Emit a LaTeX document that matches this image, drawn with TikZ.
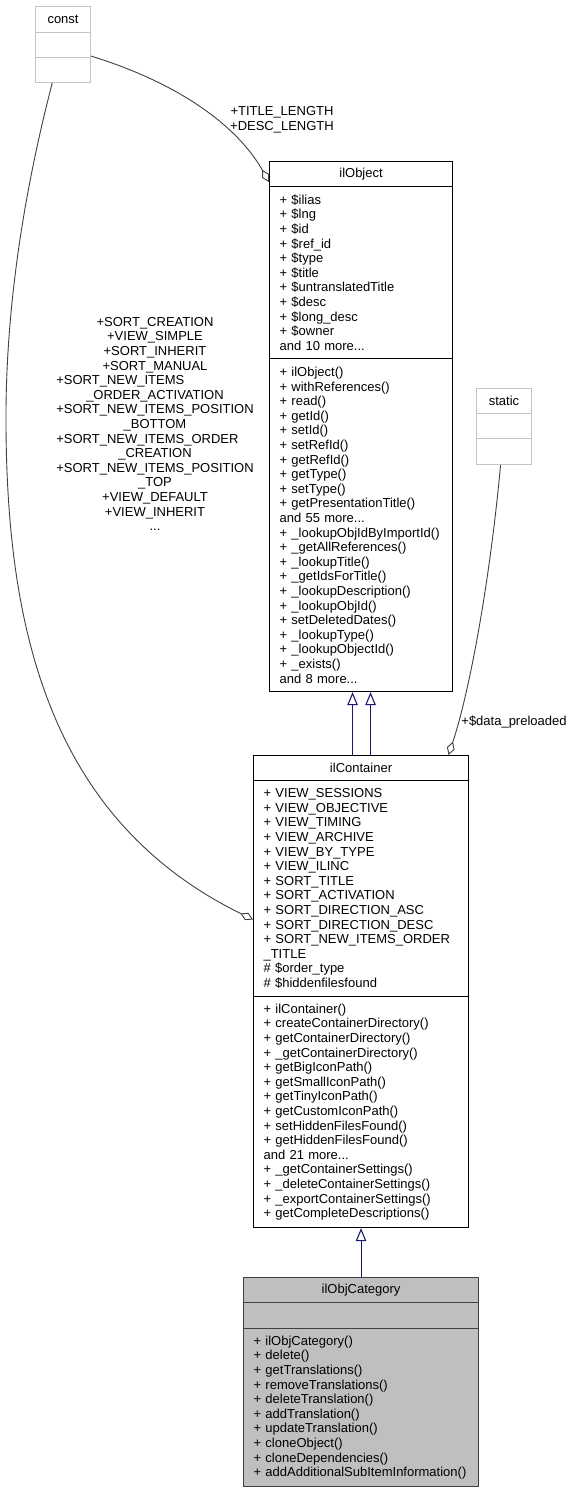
\documentclass[tikz,border=0pt]{standalone}
\usepackage{fontspec}
\setmainfont{Liberation Sans}
\usetikzlibrary{arrows.meta,calc}
\definecolor{navyline}{HTML}{191970}
\definecolor{edgegray}{HTML}{404040}
\definecolor{lightbox}{HTML}{C4C4C4}
\definecolor{catfill}{HTML}{BFBFBF}
\begin{document}
\hyphenpenalty=10000
\exhyphenpenalty=10000
\begin{tikzpicture}[x=1pt,y=-1pt,
  txt/.style={font=\fontsize{13}{14.6}\selectfont},
  ttl/.style={txt, draw=black, line width=1.1pt, inner sep=0pt, anchor=north west, align=center},
  cell/.style={txt, draw=black, line width=1.1pt, inner xsep=10pt, inner ysep=0pt, anchor=north west, align=left},
  cat/.style={fill=catfill, draw=edgegray},
  ext/.style={txt, draw=lightbox, line width=1.1pt, inner sep=0pt, anchor=north west, minimum width=55, align=center},
  inh/.style={draw=navyline, line width=1.1pt, -{Triangle[open, length=13pt, width=10.5pt]}},
  agg/.style={draw=edgegray, line width=0.9pt, -{Diamond[open, length=14pt, width=8pt, fill=white]}},
  lbl/.style={txt, align=center, inner sep=0pt}
]
\useasboundingbox (0,0) rectangle (572,1492);

% const
\node[ext, minimum height=26] (cst1) at (35,5.7) {const};
\node[ext, minimum height=25] (cst2) at (35,31.7) {};
\node[ext, minimum height=25] (cst3) at (35,56.7) {};

% static
\node[ext, minimum height=25] (stc1) at (476,388) {static};
\node[ext, minimum height=25] (stc2) at (476,413) {};
\node[ext, minimum height=26] (stc3) at (476,438) {};

% ilObject
\node[ttl, minimum width=183, minimum height=25] (objT) at (269,161) {ilObject};
\node[cell, text width=163, minimum height=172] (objA) at (269,186) {%
+ \$ilias\\+ \$lng\\+ \$id\\+ \$ref\_id\\+ \$type\\+ \$title\\+ \$untranslatedTitle\\+ \$desc\\+ \$long\_desc\\+ \$owner\\and 10 more...};
\node[cell, text width=163, minimum height=333] (objM) at (269,358) {%
+ ilObject()\\+ withReferences()\\+ read()\\+ getId()\\+ setId()\\+ setRefId()\\+ getRefId()\\+ getType()\\+ setType()\\+ getPresentationTitle()\\and 55 more...\\+ \_lookupObjIdByImportId()\\+ \_getAllReferences()\\+ \_lookupTitle()\\+ \_getIdsForTitle()\\+ \_lookupDescription()\\+ \_lookupObjId()\\+ setDeletedDates()\\+ \_lookupType()\\+ \_lookupObjectId()\\+ \_exists()\\and 8 more...};

% ilContainer
\node[ttl, minimum width=215, minimum height=25] (ctrT) at (253,755) {ilContainer};
\node[cell, text width=195, minimum height=216] (ctrA) at (253,780) {%
+ VIEW\_SESSIONS\\+ VIEW\_OBJECTIVE\\+ VIEW\_TIMING\\+ VIEW\_ARCHIVE\\+ VIEW\_BY\_TYPE\\+ VIEW\_ILINC\\+ SORT\_TITLE\\+ SORT\_ACTIVATION\\+ SORT\_DIRECTION\_ASC\\+ SORT\_DIRECTION\_DESC\\+ SORT\_NEW\_ITEMS\_ORDER\\\_TITLE\\\# \$order\_type\\\# \$hiddenfilesfound};
\node[cell, text width=195, minimum height=231] (ctrM) at (253,996) {%
+ ilContainer()\\+ createContainerDirectory()\\+ getContainerDirectory()\\+ \_getContainerDirectory()\\+ getBigIconPath()\\+ getSmallIconPath()\\+ getTinyIconPath()\\+ getCustomIconPath()\\+ setHiddenFilesFound()\\+ getHiddenFilesFound()\\and 21 more...\\+ \_getContainerSettings()\\+ \_deleteContainerSettings()\\+ \_exportContainerSettings()\\+ getCompleteDescriptions()};

% ilObjCategory
\node[ttl, cat, minimum width=235, minimum height=25] (catT) at (243,1277) {ilObjCategory};
\node[ttl, cat, minimum width=235, minimum height=26] (catA) at (243,1302) {};
\node[cell, cat, text width=215, minimum height=158] (catM) at (243,1328) {%
+ ilObjCategory()\\+ delete()\\+ getTranslations()\\+ removeTranslations()\\+ deleteTranslation()\\+ addTranslation()\\+ updateTranslation()\\+ cloneObject()\\+ cloneDependencies()\\+ addAdditionalSubItemInformation()};

% inheritance
\draw[inh] ([xshift=-8.5pt]ctrT.north) -- ([xshift=-8.5pt]objM.south);
\draw[inh] ([xshift=9.5pt]ctrT.north) -- ([xshift=9.5pt]objM.south);
\draw[inh] (catT.north) -- (ctrM.south);

% aggregations
\draw[agg] ([yshift=1.7pt]cst2.south east) .. controls (185,85) and (240,130) .. ([yshift=-8pt]objT.west);
\draw[agg] ([xshift=-10.8pt]cst3.south) .. controls (35,150) and (5,280) .. (6,425)
  .. controls (7,630) and (50,820) .. ([yshift=-31pt]ctrA.west);
\draw[agg] ([xshift=-3.5pt]stc3.south) .. controls (490,580) and (470,690) .. ([xshift=87.5pt]ctrT.north);

% labels
\node[lbl] (lblTitle) at (282,120) {+TITLE\_LENGTH\\+DESC\_LENGTH};
\node[lbl] (lblData) at (514,722) {+\$data\_preloaded};
\node[lbl] (lblSort) at (155,424) {%
+SORT\_CREATION\\+VIEW\_SIMPLE\\+SORT\_INHERIT\\+SORT\_MANUAL\\
\rlap{+SORT\_NEW\_ITEMS}\phantom{+SORT\_NEW\_ITEMS\_POSITION}\\\_ORDER\_ACTIVATION\\
+SORT\_NEW\_ITEMS\_POSITION\\\_BOTTOM\\
\rlap{+SORT\_NEW\_ITEMS\_ORDER}\phantom{+SORT\_NEW\_ITEMS\_POSITION}\\\_CREATION\\
+SORT\_NEW\_ITEMS\_POSITION\\\_TOP\\+VIEW\_DEFAULT\\+VIEW\_INHERIT\\...};
\end{tikzpicture}
\end{document}
